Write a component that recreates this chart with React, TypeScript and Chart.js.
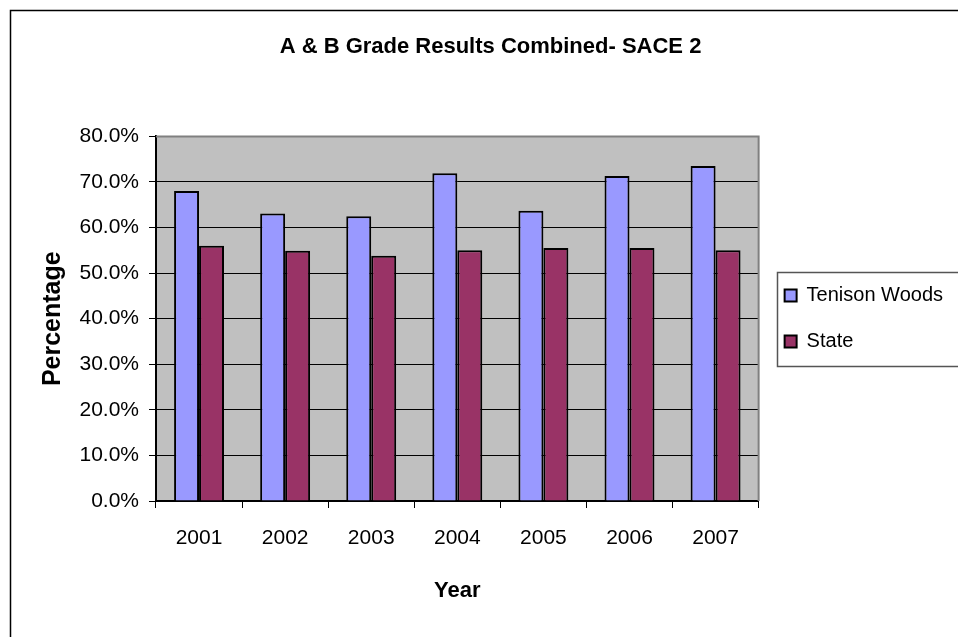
import React, { useEffect, useRef } from 'react';
import { Chart, registerables } from 'chart.js';

Chart.register(...registerables);

const years = ['2001', '2002', '2003', '2004', '2005', '2006', '2007'];
const tenisonWoods = [68.0, 63.1, 62.5, 71.9, 63.7, 71.3, 73.5];
const stateValues = [56.0, 54.9, 53.8, 55.0, 55.5, 55.5, 55.0];
const seriesNames = ['Tenison Woods', 'State'];
const chartTitle = 'A & B Grade Results Combined- SACE 2';
const xTitle = 'Year';
const yTitle = 'Percentage';

const FONT = 'Arial, "Liberation Sans", sans-serif';

const framePlugin = {
  id: 'excelFrame',
  beforeDraw(chart: any) {
    const { ctx, chartArea: a, width, height } = chart;
    ctx.save();
    ctx.fillStyle = '#ffffff';
    ctx.fillRect(0, 0, width, height);
    ctx.strokeStyle = '#000000';
    ctx.lineWidth = 1.5;
    ctx.beginPath();
    ctx.moveTo(10.5, height + 5);
    ctx.lineTo(10.5, 10.5);
    ctx.lineTo(width + 5, 10.5);
    ctx.stroke();
    ctx.fillStyle = '#C0C0C0';
    ctx.fillRect(a.left, a.top, a.right - a.left, a.bottom - a.top);
    ctx.restore();
  },
  afterDatasetsDraw(chart: any) {
    const { ctx, chartArea: a } = chart;
    ctx.save();
    ctx.strokeStyle = '#808080';
    ctx.lineWidth = 2;
    ctx.beginPath();
    ctx.moveTo(a.left, a.top);
    ctx.lineTo(a.right, a.top);
    ctx.lineTo(a.right, a.bottom);
    ctx.stroke();
    ctx.restore();
  },
  afterDraw(chart: any) {
    const lg = chart.legend;
    if (!lg || !lg.legendHitBoxes || !lg.legendHitBoxes.length) return;
    const hb = lg.legendHitBoxes;
    const first = hb[0];
    const last = hb[hb.length - 1];
    const { ctx, width } = chart;
    ctx.save();
    ctx.strokeStyle = '#555555';
    ctx.lineWidth = 1.5;
    const left = Math.round(first.left - 8) + 0.5;
    const top = Math.round(first.top - 14) + 0.5;
    const bottom = Math.round(last.top + last.height + 14) + 0.5;
    ctx.beginPath();
    ctx.moveTo(width + 5, top);
    ctx.lineTo(left, top);
    ctx.lineTo(left, bottom);
    ctx.lineTo(width + 5, bottom);
    ctx.stroke();
    ctx.restore();
  },
};

export default function App() {
  const ref = useRef<HTMLCanvasElement | null>(null);

  useEffect(() => {
    if (!ref.current) return;
    const chart = new Chart(ref.current, {
      type: 'bar',
      data: {
        labels: years,
        datasets: [
          {
            label: seriesNames[0],
            data: tenisonWoods,
            backgroundColor: '#9999FF',
            borderColor: '#000000',
            borderWidth: 2,
            categoryPercentage: 0.58,
            barPercentage: 1.0,
          },
          {
            label: seriesNames[1],
            data: stateValues,
            backgroundColor: '#993366',
            borderColor: '#000000',
            borderWidth: 2,
            categoryPercentage: 0.58,
            barPercentage: 1.0,
          },
        ],
      },
      options: {
        responsive: false,
        animation: false,
        layout: { padding: { left: 28, right: 5, top: 0, bottom: 0 } },
        plugins: {
          title: {
            display: true,
            text: chartTitle,
            color: '#000000',
            font: { family: FONT, size: 22, weight: 'bold' },
            padding: { top: 34, bottom: 76 },
          },
          legend: {
            display: true,
            position: 'right',
            labels: {
              color: '#000000',
              font: { family: FONT, size: 20 },
              boxWidth: 12,
              boxHeight: 12,
              padding: 26,
            },
          },
          tooltip: { enabled: false },
        },
        scales: {
          x: {
            grid: {
              display: true,
              drawOnChartArea: false,
              drawTicks: true,
              offset: true,
              tickLength: 7,
              color: '#000000',
              tickColor: '#000000',
            },
            border: { display: true, color: '#000000', width: 2 },
            ticks: {
              color: '#000000',
              font: { family: FONT, size: 21 },
              padding: 18,
            },
            title: {
              display: true,
              text: xTitle,
              color: '#000000',
              font: { family: FONT, size: 22, weight: 'bold' },
              padding: { top: 0, bottom: 33 },
            },
            afterFit: (scale: any) => {
              scale.height = 136;
            },
          },
          y: {
            min: 0,
            max: 80,
            grid: {
              display: true,
              drawOnChartArea: true,
              drawTicks: true,
              tickLength: 7,
              lineWidth: 1,
              color: (c: any) => (c.tick && c.tick.value === 80 ? 'rgba(0,0,0,0)' : '#000000'),
              tickColor: '#000000',
            },
            border: { display: true, color: '#000000', width: 2 },
            ticks: {
              stepSize: 10,
              color: '#000000',
              font: { family: FONT, size: 21 },
              padding: 10,
              callback: (v: any) => Number(v).toFixed(1) + '%',
            },
            title: {
              display: true,
              text: yTitle,
              color: '#000000',
              font: { family: FONT, size: 25, weight: 'bold' },
              padding: { top: 10, bottom: 0 },
            },
            afterFit: (scale: any) => {
              scale.width = 128;
            },
          },
        },
      },
      plugins: [framePlugin],
    });
    return () => chart.destroy();
  }, []);

  return (
    <div style={{ position: 'fixed', left: 0, top: 0, width: 958, height: 637, overflow: 'hidden', background: '#fff' }}>
      <canvas ref={ref} width={958} height={637} style={{ display: 'block' }} />
    </div>
  );
}
